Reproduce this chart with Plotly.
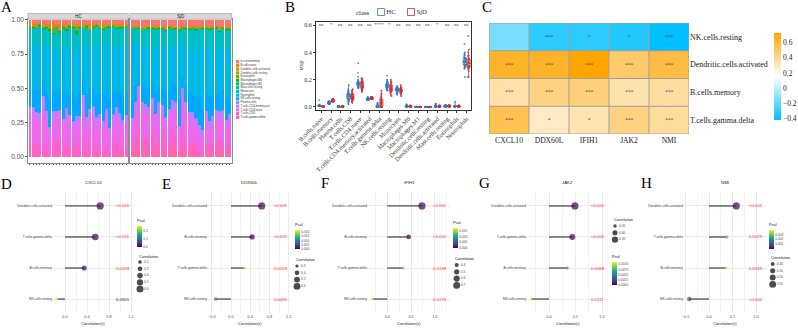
import math
import plotly.graph_objects as go

W, H = 798, 328
SANS = "Liberation Sans, Arial, sans-serif"
SERIF = "Liberation Serif, Times New Roman, serif"

# ---------------- data: panel A / B (immune cell fractions) ----------------
cell_types = ["B.cells.memory", "B.cells.naive", "Dendritic.cells.activated", "Dendritic.cells.resting",
              "Eosinophils", "Macrophages.M0", "Macrophages.M1", "Mast.cells.resting", "Monocytes",
              "Neutrophils", "NK.cells.resting", "Plasma.cells", "T.cells.CD4.memory.activated",
              "T.cells.CD4.naive", "T.cells.CD8", "T.cells.gamma.delta"]

hc_gd   = [0.00,0.01,0.00,0.02,0.00,0.01,0.00,0.00,0.03,0.00,0.01,0.00,0.00,0.02,0.00,0.01,0.00,0.00,0.01,0.00,0.02,0.00,0.01,0.00,0.00,0.01,0.00,0.03,0.00,0.01]
hc_cd8  = [0.12,0.09,0.10,0.06,0.08,0.08,0.03,0.11,0.09,0.13,0.05,0.10,0.08,0.04,0.12,0.07,0.16,0.06,0.09,0.11,0.05,0.10,0.04,0.09,0.02,0.07,0.12,0.08,0.05,0.06]
hc_cd4n = [0.19,0.22,0.17,0.18,0.32,0.18,0.14,0.17,0.16,0.18,0.16,0.19,0.17,0.15,0.14,0.15,0.25,0.17,0.18,0.19,0.16,0.17,0.16,0.20,0.15,0.17,0.18,0.14,0.16,0.18]
hc_cd4m = [0.06,0.05,0.07,0.06,0.06,0.07,0.05,0.06,0.06,0.05,0.06,0.07,0.06,0.05,0.06,0.06,0.05,0.06,0.07,0.06,0.06,0.05,0.06,0.06,0.05,0.06,0.07,0.06,0.05,0.06]
hc_pc   = [0.003,0.008,0.002,0.004,0.006,0.001,0.003,0.009,0.002,0.004,0.001,0.007,0.003,0.002,0.005,0.008,0.001,0.004,0.002,0.010,0.003,0.001,0.004,0.002,0.006,0.003,0.001,0.005,0.008,0.002]
hc_nk   = [0.15,0.13,0.16,0.17,0.12,0.14,0.20,0.15,0.16,0.13,0.18,0.14,0.16,0.19,0.15,0.17,0.12,0.18,0.15,0.14,0.17,0.16,0.19,0.15,0.23,0.16,0.13,0.15,0.18,0.16]
hc_neut = [0.31,0.33,0.34,0.35,0.28,0.33,0.40,0.32,0.30,0.31,0.36,0.30,0.34,0.38,0.36,0.33,0.22,0.36,0.29,0.30,0.37,0.33,0.39,0.31,0.46,0.35,0.29,0.34,0.38,0.36]
hc_mono = [0.12,0.13,0.12,0.11,0.10,0.13,0.12,0.10,0.15,0.14,0.12,0.13,0.14,0.11,0.13,0.14,0.15,0.12,0.14,0.13,0.12,0.14,0.10,0.13,0.09,0.13,0.15,0.12,0.11,0.12]
hc_mast = [0.010,0.004,0.012,0.002,0.008,0.011,0.003,0.009,0.001,0.013,0.007,0.002,0.010,0.004,0.012,0.003,0.009,0.011,0.002,0.008,0.004,0.010,0.003,0.012,0.002,0.009,0.004,0.011,0.002,0.008]
hc_m1   = [0.000,0.001,0.000,0.002,0.000,0.000,0.001,0.000,0.000,0.003,0.000,0.001,0.000,0.000,0.002,0.000,0.000,0.001,0.000,0.000,0.002,0.000,0.000,0.001,0.000,0.000,0.002,0.000,0.001,0.000]
hc_m0   = [0.004,0.010,0.002,0.006,0.003,0.008,0.012,0.005,0.002,0.007,0.004,0.015,0.003,0.006,0.020,0.004,0.002,0.009,0.005,0.003,0.007,0.004,0.010,0.002,0.006,0.003,0.008,0.004,0.011,0.005]
hc_eos  = [0.006,0.003,0.010,0.004,0.008,0.002,0.007,0.040,0.005,0.003,0.009,0.004,0.006,0.012,0.030,0.005,0.003,0.008,0.004,0.006,0.002,0.009,0.005,0.003,0.007,0.004,0.006,0.002,0.008,0.005]
hc_dcr  = [0.000,0.001,0.000,0.000,0.002,0.000,0.001,0.000,0.000,0.000,0.001,0.000,0.000,0.002,0.000,0.000,0.001,0.000,0.000,0.000,0.001,0.000,0.000,0.001,0.000,0.000,0.000,0.001,0.000,0.000]
hc_dca  = [0.003,0.015,0.002,0.006,0.004,0.010,0.020,0.025,0.005,0.003,0.008,0.004,0.002,0.006,0.012,0.003,0.005,0.002,0.025,0.004,0.003,0.007,0.020,0.004,0.002,0.005,0.003,0.006,0.004,0.002]
hc_bn   = [0.010,0.008,0.012,0.006,0.009,0.011,0.007,0.013,0.010,0.050,0.008,0.012,0.006,0.009,0.011,0.014,0.007,0.010,0.008,0.012,0.009,0.006,0.011,0.013,0.008,0.010,0.007,0.012,0.009,0.010]
hc_bm   = [0.030,0.025,0.035,0.020,0.040,0.028,0.033,0.022,0.038,0.030,0.027,0.045,0.031,0.024,0.036,0.029,0.041,0.026,0.034,0.032,0.023,0.037,0.030,0.028,0.035,0.021,0.039,0.030,0.027,0.033]

sjd_gd   = [0.02,0.05,0.12,0.03,0.06,0.00,0.08,0.02,0.04,0.07,0.00,0.03,0.10,0.05,0.00,0.09,0.04,0.02,0.06,0.00,0.01,0.00,0.03,0.02,0.05,0.00,0.07,0.04,0.01,0.03]
sjd_cd8  = [0.05,0.09,0.12,0.10,0.08,0.12,0.09,0.07,0.10,0.06,0.08,0.07,0.09,0.11,0.04,0.13,0.08,0.07,0.05,0.09,0.04,0.03,0.07,0.06,0.05,0.10,0.06,0.08,0.06,0.07]
sjd_cd4n = [0.15,0.19,0.20,0.21,0.18,0.17,0.19,0.16,0.19,0.18,0.14,0.18,0.15,0.18,0.13,0.20,0.21,0.18,0.14,0.13,0.12,0.11,0.16,0.12,0.13,0.17,0.15,0.14,0.14,0.15]
sjd_cd4m = [0.06,0.07,0.07,0.06,0.07,0.07,0.07,0.06,0.07,0.07,0.07,0.06,0.07,0.06,0.06,0.07,0.07,0.06,0.07,0.06,0.06,0.07,0.07,0.06,0.06,0.07,0.06,0.07,0.06,0.06]
sjd_pc   = [0.002,0.005,0.001,0.003,0.007,0.002,0.004,0.001,0.006,0.003,0.002,0.008,0.001,0.004,0.003,0.002,0.005,0.001,0.003,0.006,0.002,0.004,0.001,0.003,0.005,0.002,0.004,0.006,0.001,0.003]
sjd_nk   = [0.14,0.12,0.09,0.13,0.12,0.14,0.10,0.16,0.11,0.13,0.18,0.14,0.11,0.12,0.20,0.08,0.12,0.15,0.13,0.16,0.19,0.17,0.12,0.18,0.15,0.11,0.13,0.14,0.16,0.12]
sjd_neut = [0.38,0.30,0.22,0.28,0.32,0.30,0.26,0.33,0.29,0.32,0.35,0.30,0.27,0.29,0.42,0.22,0.28,0.31,0.36,0.33,0.40,0.52,0.34,0.37,0.34,0.32,0.35,0.31,0.38,0.35]
sjd_mono = [0.12,0.11,0.10,0.12,0.11,0.13,0.14,0.12,0.13,0.10,0.10,0.14,0.12,0.12,0.08,0.12,0.13,0.14,0.11,0.15,0.10,0.09,0.13,0.11,0.14,0.16,0.10,0.13,0.11,0.14]
sjd_mast = [0.006,0.010,0.003,0.008,0.012,0.004,0.009,0.002,0.011,0.005,0.007,0.013,0.003,0.008,0.010,0.004,0.006,0.009,0.002,0.011,0.005,0.008,0.004,0.012,0.003,0.007,0.010,0.005,0.009,0.006]
sjd_m1   = [0.000,0.000,0.002,0.000,0.001,0.000,0.000,0.003,0.000,0.000,0.001,0.000,0.000,0.002,0.000,0.000,0.000,0.001,0.000,0.000,0.002,0.000,0.001,0.000,0.000,0.000,0.001,0.000,0.000,0.002]
sjd_m0   = [0.005,0.003,0.008,0.002,0.006,0.010,0.004,0.007,0.003,0.009,0.005,0.002,0.008,0.004,0.006,0.003,0.011,0.005,0.002,0.007,0.004,0.006,0.003,0.009,0.005,0.002,0.007,0.004,0.006,0.003]
sjd_eos  = [0.004,0.006,0.002,0.012,0.005,0.003,0.007,0.004,0.009,0.002,0.006,0.004,0.008,0.003,0.005,0.010,0.002,0.006,0.004,0.007,0.003,0.005,0.011,0.004,0.006,0.002,0.008,0.003,0.005,0.007]
sjd_dcr  = [0.000,0.001,0.000,0.000,0.000,0.002,0.000,0.000,0.001,0.000,0.000,0.000,0.001,0.000,0.000,0.000,0.002,0.000,0.000,0.001,0.000,0.000,0.000,0.001,0.000,0.000,0.000,0.000,0.001,0.000]
sjd_dca  = [0.004,0.003,0.006,0.002,0.005,0.003,0.008,0.004,0.002,0.006,0.003,0.005,0.004,0.002,0.007,0.003,0.005,0.004,0.003,0.006,0.002,0.004,0.003,0.005,0.004,0.002,0.015,0.003,0.006,0.004]
sjd_bn   = [0.005,0.003,0.007,0.002,0.006,0.004,0.008,0.003,0.005,0.002,0.006,0.004,0.003,0.007,0.002,0.005,0.004,0.006,0.003,0.005,0.002,0.004,0.006,0.003,0.005,0.004,0.002,0.006,0.003,0.005]
sjd_bm   = [0.050,0.045,0.040,0.055,0.048,0.042,0.038,0.052,0.044,0.047,0.060,0.041,0.046,0.050,0.058,0.039,0.043,0.051,0.047,0.045,0.055,0.049,0.040,0.053,0.046,0.044,0.057,0.042,0.048,0.050]

box_order = ["B.cells.naive", "B.cells.memory", "Plasma.cells", "T.cells.CD8", "T.cells.CD4.naive",
             "T.cells.CD4.memory.activated", "T.cells.gamma.delta", "NK.cells.resting", "Monocytes",
             "Macrophages.M0", "Macrophages.M1", "Dendritic.cells.resting", "Dendritic.cells.activated",
             "Mast.cells.resting", "Eosinophils", "Neutrophils"]
box_sig = ["ns", "*", "ns", "ns", "ns", "ns", "****", "*", "ns", "ns", "ns", "ns", "*", "ns", "ns", "ns"]
y_ticks_a = [0, 0.25, 0.5, 0.75, 1.0]
y_ticks_b = [0, 0.2, 0.4, 0.6]

# ---------------- data: panel C-H (correlations) ----------------
genes = ["CXCL10", "DDX60L", "IFIH1", "JAK2", "NMI"]
heat_rows = ["NK.cells.resting", "Dendritic.cells.activated", "B.cells.memory", "T.cells.gamma.delta"]
r_cxcl10 = [-0.15, 0.64, 0.35, 0.55]
r_ddx60l = [-0.32, 0.64, 0.44, 0.29]
r_ifih1  = [-0.32, 0.73, 0.45, 0.33]
r_jak2   = [-0.34, 0.49, 0.345, 0.44]
r_nmi    = [-0.42, 0.58, 0.37, 0.38]
p_cxcl10 = [0.2655, 0.000001, 0.0059, 0.00001]
p_ddx60l = [0.0095, 0.000001, 0.00001, 0.0224]
p_ifih1  = [0.0176, 0.0000001, 0.000001, 0.0138]
p_jak2   = [0.0111, 0.000001, 0.0068, 0.00002]
p_nmi    = [0.0009, 0.000001, 0.0039, 0.0029]
stars_nk   = ["", "***", "*", "*", "***"]
stars_dc   = ["***", "***", "***", "***", "***"]
stars_bm   = ["***", "***", "***", "***", "***"]
stars_gd   = ["***", "*", "*", "***", "***"]
heat_ticks = [-0.4, -0.2, 0, 0.2, 0.4, 0.6]

size_breaks_d = [0.2, 0.3, 0.4, 0.5, 0.6]
size_breaks_e = [0.3, 0.4, 0.5, 0.6]
size_breaks_f = [0.4, 0.5, 0.6, 0.7]
size_breaks_g = [0.35, 0.40, 0.45]
size_breaks_h = [0.40, 0.45, 0.50, 0.55]
pval_ticks_d = [0.0, 0.1, 0.2]
pval_ticks_e = [0.0, 0.005, 0.010, 0.015, 0.020]
pval_ticks_f = [0.0, 0.005, 0.010, 0.015]
pval_ticks_g = [0.0, 0.0025, 0.0050, 0.0075, 0.0100]
pval_ticks_h = [0.0, 0.001, 0.002, 0.003]

# ---------------- helpers ----------------
def hcl_hex(h, c=100, l=65):
    hr = math.radians(h)
    U, V = c * math.cos(hr), c * math.sin(hr)
    Xn, Yn, Zn = 95.047, 100.0, 108.883
    den = Xn + 15 * Yn + 3 * Zn
    un, vn = 4 * Xn / den, 9 * Yn / den
    Y = Yn * ((l + 16) / 116) ** 3
    u, v = U / (13 * l) + un, V / (13 * l) + vn
    X = 9 * Y * u / (4 * v)
    Z = -X / 3 - 5 * Y + 3 * Y / v
    X, Y, Z = X / 100, Y / 100, Z / 100
    rgb = [3.240479 * X - 1.537150 * Y - 0.498535 * Z,
           -0.969256 * X + 1.875992 * Y + 0.041556 * Z,
           0.055648 * X - 0.204043 * Y + 1.057311 * Z]
    out = []
    for t in rgb:
        t = 12.92 * t if t <= 0.0031308 else 1.055 * t ** (1 / 2.4) - 0.055
        out.append(max(0, min(255, round(255 * t))))
    return "#%02X%02X%02X" % tuple(out)

n_ct = len(cell_types)
ct_color = {ct: hcl_hex(15 + 360 * i / n_ct) for i, ct in enumerate(cell_types)}

hc = dict(zip(cell_types, [hc_bm, hc_bn, hc_dca, hc_dcr, hc_eos, hc_m0, hc_m1, hc_mast, hc_mono,
                           hc_neut, hc_nk, hc_pc, hc_cd4m, hc_cd4n, hc_cd8, hc_gd]))
sjd = dict(zip(cell_types, [sjd_bm, sjd_bn, sjd_dca, sjd_dcr, sjd_eos, sjd_m0, sjd_m1, sjd_mast, sjd_mono,
                            sjd_neut, sjd_nk, sjd_pc, sjd_cd4m, sjd_cd4n, sjd_cd8, sjd_gd]))

def xd(a, b):
    return [max(0.0, a / W), min(1.0, b / W)]

def yd(top, bottom):
    return [max(0.0, 1 - bottom / H), min(1.0, 1 - top / H)]

def py(y):
    return 1 - y / H

def sfx(n):
    return "" if n == 1 else str(n)

def base_axis(dom, anchor, **kw):
    d = dict(domain=dom, anchor=anchor, showgrid=False, zeroline=False, showticklabels=False,
             ticks="", showline=False, fixedrange=True, automargin=False)
    d.update(kw)
    return d

fig = go.Figure()
lay = dict(template="none", width=W, height=H, margin=dict(l=0, r=0, t=0, b=0, pad=0, autoexpand=False),
           paper_bgcolor="white", plot_bgcolor="white", showlegend=False, barmode="stack", barnorm="fraction",
           boxmode="group", boxgap=0.22, boxgroupgap=0.12, font=dict(family=SANS, color="#333333"))
annots = []
shapes = []

def note(text, x, y, size, family=SANS, color="#1A1A1A", xref="paper", yref="paper", **kw):
    a = dict(text=text, x=x, y=y, xref=xref, yref=yref, showarrow=False, xanchor="center", yanchor="middle",
             font=dict(size=size, family=family, color=color))
    a.update(kw)
    annots.append(a)

# ---------------- Panel A ----------------
ydomA = yd(19.3, 163)
for n, dom, data, lab in [(1, xd(28, 128.3), hc, "HC"), (2, xd(130, 231.7), sjd, "SjD")]:
    ns = len(data[cell_types[0]])
    for ct in reversed(cell_types):
        fig.add_bar(x=list(range(ns)), y=data[ct], width=0.9, marker=dict(color=ct_color[ct], line=dict(width=0)),
                    xaxis="x" + sfx(n), yaxis="y" + sfx(n), hoverinfo="skip")
    lay["xaxis" + sfx(n)] = base_axis(dom, "y" + sfx(n), range=[-0.6, ns - 0.4], tickvals=list(range(ns)),
                                      ticks="outside", ticklen=1.5, tickwidth=0.4, tickcolor="#555555",
                                      showline=True, mirror=True, linecolor="#8C8C8C", linewidth=0.6)
    lay["yaxis" + sfx(n)] = base_axis(ydomA, "x" + sfx(n), range=[-0.044, 1.004], tickvals=y_ticks_a,
                                      tickformat=".2f", showticklabels=(n == 1), ticks="outside" if n == 1 else "",
                                      ticklen=2, tickwidth=0.5, tickcolor="#555555",
                                      tickfont=dict(size=6.5, color="#4D4D4D", family=SANS),
                                      showline=True, mirror=True, linecolor="#8C8C8C", linewidth=0.6)
    shapes.append(dict(type="rect", xref="x" + sfx(n) + " domain", yref="paper", x0=0, x1=1,
                       y0=py(19.3), y1=py(13.5), fillcolor="#D9D9D9", line=dict(color="#8C8C8C", width=0.5)))
    note(lab, 0.5, py(16.4), 4.5, xref="x" + sfx(n) + " domain", color="#1A1A1A")

# legend A
fig.add_scatter(x=[0] * n_ct, y=list(range(n_ct)), mode="markers+text",
                marker=dict(symbol="square", size=3.2, color=[ct_color[c] for c in cell_types], line=dict(width=0)),
                text=cell_types, textposition="middle right", textfont=dict(size=2.8, color="#333333", family=SANS),
                cliponaxis=True, xaxis="x3", yaxis="y3", hoverinfo="skip")
lay["xaxis3"] = base_axis(xd(236, 270), "y3", range=[-0.5, 10])
lay["yaxis3"] = base_axis(yd(59.85, 119.15), "x3", range=[n_ct - 0.5, -0.5])

# ---------------- Panel B ----------------
HC_COL, SJD_COL = "#2F7DC2", "#CD3238"
for data, col, nm in [(hc, HC_COL, "HC"), (sjd, SJD_COL, "SjD")]:
    xs, ys = [], []
    for cat in box_order:
        xs += [cat] * len(data[cat])
        ys += data[cat]
    fig.add_box(x=xs, y=ys, name=nm, boxpoints="all", jitter=0.7, pointpos=0,
                marker=dict(color=col, size=1.8, opacity=0.85), line=dict(color=col, width=0.7),
                fillcolor="rgba(255,255,255,0)", whiskerwidth=0.4, xaxis="x4", yaxis="y4", hoverinfo="skip")
lay["xaxis4"] = base_axis(xd(316, 471), "y4", type="category", categoryorder="array", categoryarray=box_order,
                          range=[-0.55, len(box_order) - 0.55], showticklabels=True, tickangle=-45,
                          tickfont=dict(family=SERIF, size=6.2, color="#333333"), ticks="outside", ticklen=2,
                          tickwidth=0.5, tickcolor="#333333", showline=True, mirror=True,
                          linecolor="#333333", linewidth=0.7)
lay["yaxis4"] = base_axis(yd(22, 110), "x4", range=[-0.022, 0.622], tickvals=y_ticks_b, tickformat=".1f",
                          showticklabels=True, tickfont=dict(family=SERIF, size=6.2, color="#333333"),
                          ticks="outside", ticklen=2, tickwidth=0.5, tickcolor="#333333", showline=True,
                          mirror=True, linecolor="#333333", linewidth=0.7)
for cat, s in zip(box_order, box_sig):
    note(s, cat, 0.603, 5, family=SERIF, color="#333333", xref="x4", yref="y4")
note("exp", 301 / W, py(66), 6.5, family=SERIF, textangle=-90)
note("class", 363 / W, py(12), 6.8, family=SERIF)
fig.add_scatter(x=[0, 1], y=[0, 0], mode="markers+text",
                marker=dict(symbol="square-open", size=7, color=[HC_COL, SJD_COL], line=dict(width=0.8)),
                text=["HC", "SjD"], textposition="middle right",
                textfont=dict(size=6.8, family=SERIF, color="#333333"), xaxis="x5", yaxis="y5", hoverinfo="skip")
lay["xaxis5"] = base_axis(xd(371, 441), "y5", range=[-0.333, 2])
lay["yaxis5"] = base_axis(yd(7, 17), "x5", range=[-1, 1])

# ---------------- Panel C ----------------
r_by_gene = [r_cxcl10, r_ddx60l, r_ifih1, r_jak2, r_nmi]
p_by_gene = [p_cxcl10, p_ddx60l, p_ifih1, p_jak2, p_nmi]
heat_z = [[r[i] for r in r_by_gene] for i in range(len(heat_rows))]
heat_text = [stars_nk, stars_dc, stars_bm, stars_gd]
zmin = min(min(r) for r in heat_z)
zmax = max(max(r) for r in heat_z)
fig.add_heatmap(z=heat_z, x=list(range(len(genes))), y=list(range(len(heat_rows))),
                colorscale=[[0, "#00BFFF"], [0.5, "#FFFFFF"], [1, "#FFA500"]], zmin=zmin, zmax=zmax,
                text=heat_text, texttemplate="%{text}",
                textfont=dict(size=5.5, color="#4D4D4D", family=SERIF),
                colorbar=dict(x=774 / W, xanchor="left", y=py(76.4), yanchor="middle", len=87, lenmode="pixels",
                              thickness=6.5, thicknessmode="pixels", outlinewidth=0, ticks="", tickvals=heat_ticks,
                              tickfont=dict(family=SERIF, size=7.5, color="#1A1A1A"), xpad=0, ypad=0),
                xaxis="x6", yaxis="y6", hoverinfo="skip")
lay["xaxis6"] = base_axis(xd(489, 689), "y6", range=[-0.5, len(genes) - 0.5], tickvals=list(range(len(genes))),
                          ticktext=genes, showticklabels=True,
                          tickfont=dict(family=SERIF, size=7.6, color="#1A1A1A"))
lay["yaxis6"] = base_axis(yd(23, 134), "x6", range=[len(heat_rows) - 0.5, -0.5], side="right",
                          tickvals=list(range(len(heat_rows))), ticktext=heat_rows, showticklabels=True,
                          tickfont=dict(family=SERIF, size=8, color="#1A1A1A"))
CELL_LINE = dict(color="#A0A0A0", width=1)
for j in range(len(genes) + 1):
    shapes.append(dict(type="line", xref="x6", yref="y6 domain", x0=j - 0.5, x1=j - 0.5, y0=0, y1=1,
                       line=CELL_LINE))
for i in range(len(heat_rows) + 1):
    shapes.append(dict(type="line", xref="x6 domain", yref="y6", x0=0, x1=1, y0=i - 0.5, y1=i - 0.5,
                       line=CELL_LINE))

# ---------------- Panels D-H ----------------
lolli_px = [(53, 133, 65, 55), (208, 291, 231, 48), (368, 450, 387.3, 47.5), (527, 608, 549, 53), (684, 766, 709, 47)]
lolli_dtick = [0.4, 0.4, 0.5, 0.5, 0.5]
size_breaks = [size_breaks_d, size_breaks_e, size_breaks_f, size_breaks_g, size_breaks_h]
size_fmt = [".1f", ".1f", ".1f", ".2f", ".2f"]
pval_ticks = [pval_ticks_d, pval_ticks_e, pval_ticks_f, pval_ticks_g, pval_ticks_h]
pval_fmt = [".1f", ".3f", ".3f", ".4f", ".3f"]
cb_pos = [(137, 216, 247), (295, 220, 249), (453, 218, 248), (612, 252, 285), (769, 220, 249)]
sl_dot_x = [140, 297, 456.7, 615, 772.7]
sl_top = [262, 266, 265, 226, 264]
sl_title = [256, 259.5, 258.5, 219.5, 257.5]
SL_STEP = 6.8
ydomL = yd(192, 313)
DMIN, DMAX = 3.0, 7.2

for k, g in enumerate(genes):
    n = 7 + k
    rs, ps = r_by_gene[k], p_by_gene[k]
    order = sorted(range(len(rs)), key=lambda i: rs[i])
    rank = {i: j for j, i in enumerate(order)}
    amin = min(abs(v) for v in rs)
    amax = max(abs(v) for v in rs)

    def size_of(a, amin=amin, amax=amax):
        t = (a - amin) / (amax - amin)
        t = max(0.0, min(1.0, t))
        return math.sqrt(DMIN ** 2 + (DMAX ** 2 - DMIN ** 2) * t)

    seg_x, seg_y = [], []
    for i in range(len(rs)):
        seg_x += [0, rs[i], None]
        seg_y += [rank[i], rank[i], None]
    fig.add_scatter(x=seg_x, y=seg_y, mode="lines", line=dict(color="#4D4D4D", width=1.3),
                    xaxis="x" + str(n), yaxis="y" + str(n), hoverinfo="skip")
    fig.add_scatter(x=rs, y=[rank[i] for i in range(len(rs))], mode="markers",
                    marker=dict(size=[size_of(abs(v)) for v in rs], color=ps, coloraxis="coloraxis" + str(k + 2),
                                line=dict(width=0)),
                    xaxis="x" + str(n), yaxis="y" + str(n), hoverinfo="skip")
    left, right, zero, ppu = lolli_px[k]
    lay["xaxis" + str(n)] = base_axis(xd(left, right), "y" + str(n),
                                      range=[(left - zero) / ppu, (right - zero) / ppu],
                                      tick0=0, dtick=lolli_dtick[k], tickformat=".1f", showticklabels=True,
                                      tickfont=dict(size=3.8, color="#4D4D4D", family=SANS),
                                      showgrid=True, gridcolor="#EBEBEB", gridwidth=0.5,
                                      minor=dict(tick0=0, dtick=lolli_dtick[k] / 2, showgrid=True,
                                                 gridcolor="#F4F4F4", gridwidth=0.4))
    lay["yaxis" + str(n)] = base_axis(ydomL, "x" + str(n), range=[-0.45, len(rs) - 0.55],
                                      tickvals=list(range(len(rs))), ticktext=[heat_rows[i] for i in order],
                                      showticklabels=True, tickfont=dict(size=3.3, color="#333333", family=SANS),
                                      showgrid=True, gridcolor="#EBEBEB", gridwidth=0.5)
    for i in range(len(rs)):
        txt = "<0.001" if ps[i] < 0.001 else f"{ps[i]:.4f}"
        note(txt.replace("<", "&lt;"), 0.875, rank[i], 4.3, color="#FF2A2A" if ps[i] < 0.05 else "#1A1A1A",
             xref=f"x{n} domain", yref=f"y{n}")
    note(g, 0.5, py(182), 4.4, xref=f"x{n} domain")
    note("Correlation(r)", 0.5, py(323.5), 4.0, xref=f"x{n} domain")

    cbx, cbt, cbb = cb_pos[k]
    lay["coloraxis" + str(k + 2)] = dict(
        colorscale="Viridis", cmin=min(ps), cmax=max(ps),
        colorbar=dict(x=cbx / W, xanchor="left", y=py((cbt + cbb) / 2), yanchor="middle", len=cbb - cbt,
                      lenmode="pixels", thickness=4.5, thicknessmode="pixels", outlinewidth=0, ticks="",
                      tickvals=pval_ticks[k], tickformat=pval_fmt[k],
                      tickfont=dict(size=3.3, color="#4D4D4D", family=SANS), xpad=0, ypad=0,
                      title=dict(text="Pval", side="top", font=dict(size=3.9, color="#1A1A1A", family=SANS))))

    # size legend
    m = 12 + k
    br = size_breaks[k]
    dx = sl_dot_x[k]
    top = sl_top[k] - SL_STEP / 2
    bottom = sl_top[k] + SL_STEP * (len(br) - 1) + SL_STEP / 2
    fig.add_scatter(x=[0] * len(br), y=list(range(len(br))), mode="markers",
                    marker=dict(size=[size_of(b) for b in br], color="black", line=dict(width=0)),
                    xaxis="x" + str(m), yaxis="y" + str(m), hoverinfo="skip")
    fig.add_scatter(x=[4] * len(br), y=list(range(len(br))), mode="text",
                    text=[format(b, size_fmt[k]) for b in br], textposition="middle right",
                    textfont=dict(size=3.3, color="#4D4D4D", family=SANS), cliponaxis=False,
                    xaxis="x" + str(m), yaxis="y" + str(m), hoverinfo="skip")
    lay["xaxis" + str(m)] = base_axis(xd(dx - 4, dx + 24), "y" + str(m), range=[-4, 24])
    lay["yaxis" + str(m)] = base_axis(yd(top, bottom), "x" + str(m), range=[len(br) - 0.5, -0.5])
    note("Correlation", (dx - 3.5) / W, py(sl_title[k]), 3.9, xanchor="left")

# ---------------- panel letters ----------------
for lab, x, y in [("A", 6, 7), ("B", 290, 7), ("C", 487, 7), ("D", 6, 184), ("E", 166, 184),
                  ("F", 325, 183), ("G", 484, 183), ("H", 646, 183)]:
    note(lab, x / W, py(y), 15, family=SERIF, color="#000000")

lay["annotations"] = annots
lay["shapes"] = shapes
fig.update_layout(**lay)
fig.write_html("out.html")
